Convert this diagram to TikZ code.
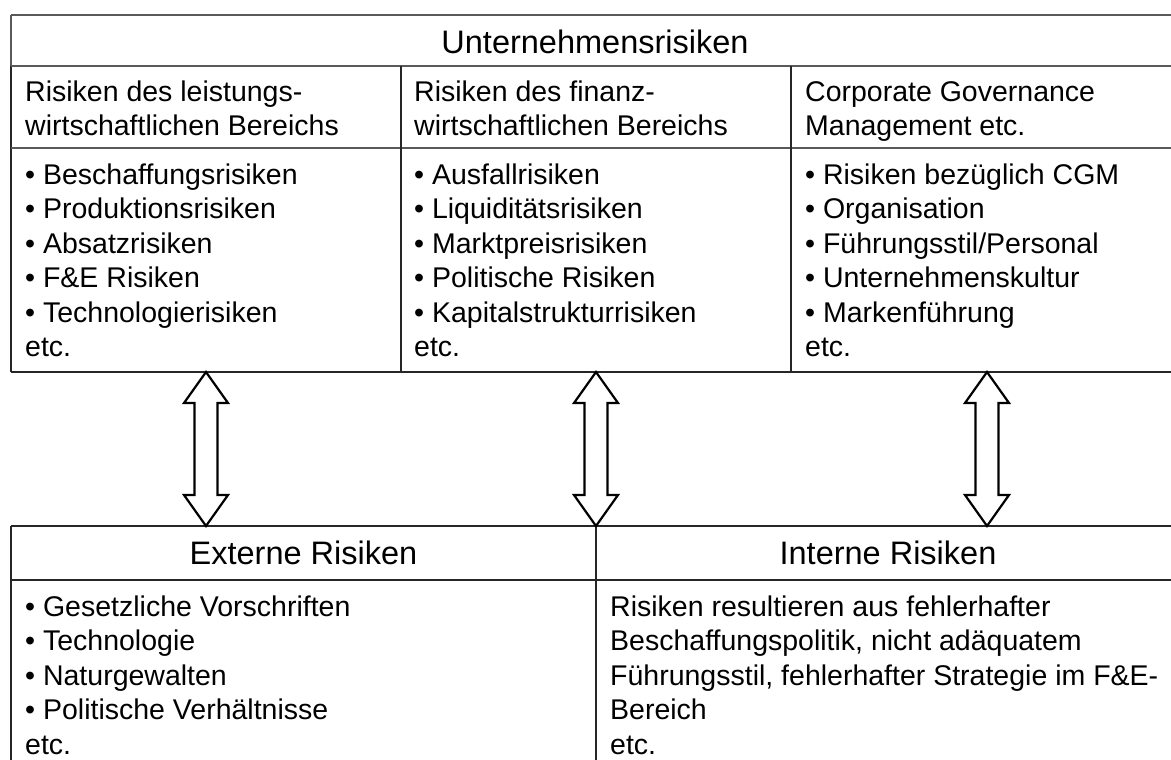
\documentclass[tikz,border=0pt]{standalone}
\usepackage{fontspec}
\setmainfont{Liberation Sans}
\usetikzlibrary{calc}
% invisible strut that fixes the first baseline of a multi-line cell
\newcommand\cellstrut{\rule{0pt}{30pt}}
\begin{document}
\begin{tikzpicture}[x=1pt,y=-1pt,
  tablerule/.style={line width=1.4pt,black!85},
  headrule/.style={line width=2.4pt,black!65},
  celltext/.style={inner sep=0pt,anchor=north west,align=left,
    font=\fontsize{28.5}{34.5}\selectfont},
  headtext/.style={inner sep=0pt,anchor=base,
    font=\fontsize{32.5}{38}\selectfont},
  hollowarrow/.style={draw=black,line width=2.2pt,fill=white,line join=miter}]
\useasboundingbox (0,0) rectangle (1171,760);
\clip (0,0) rectangle (1171,760);

% ---- upper table: Unternehmensrisiken ----
\draw[headrule] (11,15) -- (1190,15);
\draw[headrule] (11,15) -- (11,66);
\draw[tablerule] (11,66) -- (11,372);
\draw[headrule] (11,66) -- (1190,66);
\draw[headrule] (11,148) -- (1190,148);
\draw[tablerule] (11,372) -- (1190,372);
\draw[tablerule] (401,66) -- (401,372);
\draw[tablerule] (791,66) -- (791,372);

% ---- lower table: external / internal risks ----
\draw[tablerule] (11,526) -- (1190,526);
\draw[tablerule] (11,580) -- (1190,580);
\draw[tablerule] (11,526) -- (11,780);
\draw[tablerule] (596,526) -- (596,780);

% ---- texts ----
\node[headtext] (title) at (595,54) {Unternehmensrisiken};

\node[celltext] (hLeist) at (25,71) {\cellstrut Risiken des leistungs-\\wirtschaftlichen Bereichs};
\node[celltext] (hFin) at (414,71) {\cellstrut Risiken des finanz-\\wirtschaftlichen Bereichs};
\node[celltext] (hCGM) at (805,71) {\cellstrut Corporate Governance\\Management etc.};

\node[celltext] (lLeist) at (25,154) {\cellstrut • Beschaffungsrisiken\\• Produktionsrisiken\\• Absatzrisiken\\• F\&E Risiken\\• Technologierisiken\\etc.};
\node[celltext] (lFin) at (414,154) {\cellstrut • Ausfallrisiken\\• Liquiditätsrisiken\\• Marktpreisrisiken\\• Politische Risiken\\• Kapitalstrukturrisiken\\etc.};
\node[celltext] (lCGM) at (805,154) {\cellstrut • Risiken bezüglich CGM\\• Organisation\\• Führungsstil/Personal\\• Unternehmenskultur\\• Markenführung\\etc.};

\node[headtext] (ext) at (303.5,564) {Externe Risiken};
\node[headtext] (int) at (888,564) {Interne Risiken};

\node[celltext] (lExt) at (25,586) {\cellstrut • Gesetzliche Vorschriften\\• Technologie\\• Naturgewalten\\• Politische Verhältnisse\\etc.};
\node[celltext] (lInt) at (610,586) {\cellstrut Risiken resultieren aus fehlerhafter\\Beschaffungspolitik, nicht adäquatem\\Führungsstil, fehlerhafter Strategie im F\&E-\\Bereich\\etc.};

% ---- double-headed hollow arrows between the tables ----
\coordinate (up1) at (206,372); \coordinate (dn1) at (206,526);
\coordinate (up2) at (596,372); \coordinate (dn2) at (596,526);
\coordinate (up3) at (987,372); \coordinate (dn3) at (987,526);
\foreach \n in {1,2,3}{
  \draw[hollowarrow] (up\n) -- ($(up\n)+(22,31)$) -- ($(up\n)+(11.5,31)$)
    -- ($(dn\n)+(11.5,-31)$) -- ($(dn\n)+(22,-31)$) -- (dn\n)
    -- ($(dn\n)+(-22,-31)$) -- ($(dn\n)+(-11.5,-31)$)
    -- ($(up\n)+(-11.5,31)$) -- ($(up\n)+(-22,31)$) -- cycle;
}
\end{tikzpicture}
\end{document}
